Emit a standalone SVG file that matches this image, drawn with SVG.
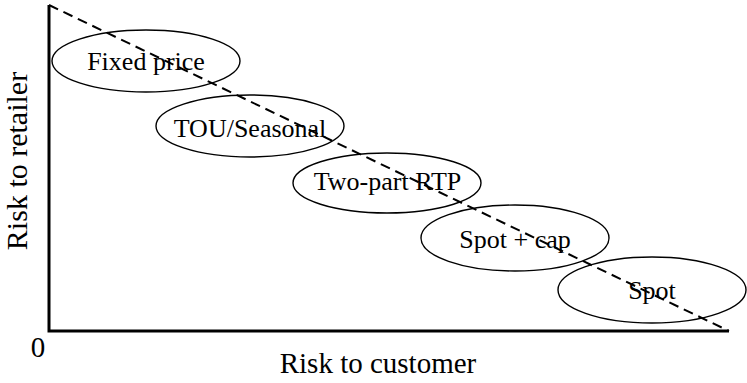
<svg xmlns="http://www.w3.org/2000/svg" width="747" height="383" viewBox="0 0 747 383">
<style>
.axis{stroke:#000;stroke-width:3;fill:none}
.dash{stroke:#000;stroke-width:2;stroke-dasharray:10,6;fill:none}
.ell{stroke:#000;stroke-width:1.4;fill:none}
.t{font-family:"Liberation Serif","Times New Roman",serif;fill:#000}
.lbl{font-size:26px;text-anchor:middle}
.ax{font-size:29px}
</style>
<rect width="747" height="383" fill="#fff"/>
<g id="axes">
<path class="axis" d="M49,5 V331 H729"/>
</g>
<g id="connectors">
<line class="dash" x1="49" y1="5" x2="729" y2="331"/>
</g>
<g id="node-fixed"><ellipse class="ell" cx="146" cy="61" rx="94" ry="31"/><text class="t lbl" x="146" y="70">Fixed price</text></g>
<g id="node-tou"><ellipse class="ell" cx="250" cy="126" rx="94" ry="31"/><text class="t lbl" x="250" y="137">TOU/Seasonal</text></g>
<g id="node-rtp"><ellipse class="ell" cx="387" cy="183" rx="94" ry="30"/><text class="t lbl" x="387.5" y="190">Two-part RTP</text></g>
<g id="node-cap"><ellipse class="ell" cx="515" cy="238" rx="94" ry="33"/><text class="t lbl" x="515" y="248">Spot + cap</text></g>
<g id="node-spot"><ellipse class="ell" cx="652" cy="290" rx="94" ry="33"/><text class="t lbl" x="652" y="299">Spot</text></g>
<text class="t ax" x="378" y="373" text-anchor="middle">Risk to customer</text>
<text class="t ax" x="38" y="357" text-anchor="middle">0</text>
<text class="t" font-size="30" transform="translate(27,161) rotate(-90)" text-anchor="middle">Risk to retailer</text>
</svg>
